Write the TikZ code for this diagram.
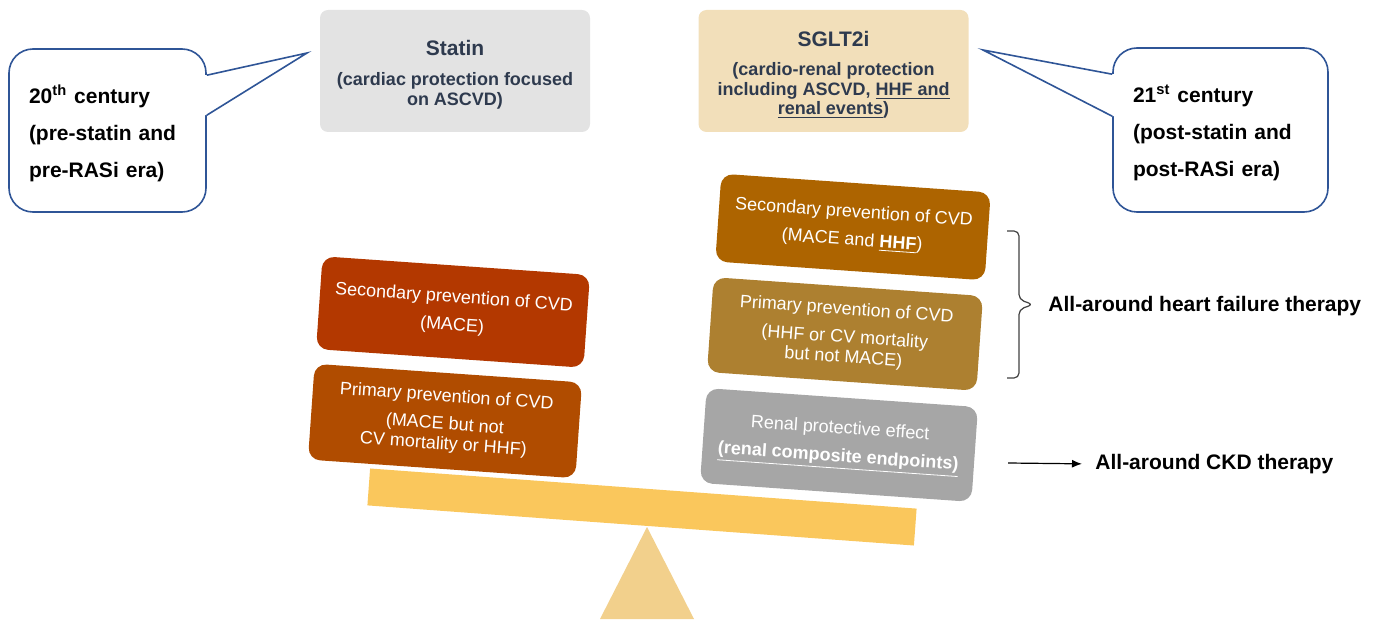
\documentclass[tikz,border=0pt]{standalone}
\usepackage{fontspec}
\setmainfont{Liberation Sans}
\usepackage{tikz}
\usepackage{xcolor}
\usetikzlibrary{
  arrows.meta, calc, positioning
}
\definecolor{bubbleblue}{HTML}{2F5597}
\definecolor{statingray}{HTML}{E3E3E3}
\definecolor{sglttan}{HTML}{F2DFBA}
\definecolor{drugnavy}{HTML}{2E3A4E}
\definecolor{secred}{HTML}{B33800}
\definecolor{primrust}{HTML}{B04C00}
\definecolor{secamber}{HTML}{AD6400}
\definecolor{primgold}{HTML}{AD8030}
\definecolor{renalgray}{HTML}{A6A6A6}
\definecolor{beamyellow}{HTML}{FAC75C}
\definecolor{fulcrumtan}{HTML}{F2D08C}
\definecolor{bracegray}{HTML}{404040}
\tikzset{
  % Era speech bubbles
  bubble/.style={
    draw=bubbleblue, fill=white, rounded corners=12pt,
    line width=0.8pt, align=left, text=black,
    font=\bfseries\fontsize{10.5}{18.5}\selectfont,
    inner xsep=10pt, inner ysep=0pt,
  },
  bubbletail/.style={draw=bubbleblue, line width=0.8pt},
  % Drug headers on top
  drug/.style={
    fill=#1, rounded corners=4pt,
    minimum height=61pt, minimum width=135pt,
    align=center, text=drugnavy, inner sep=0pt,
    font=\bfseries\fontsize{9}{9.75}\selectfont,
  },
  % Tilted weights lying on the scale
  weight/.style={
    fill=#1, rounded corners=6pt, rotate=-4,
    minimum width=134pt, inner sep=0pt,
    align=center, text=white,
    font=\fontsize{9}{10}\selectfont,
  },
  beam/.style={
    fill=beamyellow, rotate=-4.2, inner sep=0pt,
    minimum width=274pt, minimum height=18.5pt,
  },
  % Labels on the right
  sidelabel/.style={
    font=\bfseries\fontsize{10.5}{12}\selectfont,
    anchor=west, inner sep=0pt,
  },
  arr/.style={-{Latex[length=5pt, width=4pt]}, line width=0.6pt, black},
  bracket/.style={rounded corners=2.5pt, line width=0.6pt, bracegray},
}

\begin{document}
\begin{tikzpicture}[x=0.5pt, y=-0.5pt]
  \useasboundingbox (0,0) rectangle (1381,620);

  % seesaw
  \fill[fulcrumtan] (647,527) -- (694,619) -- (600,619) -- cycle;
  \node[beam] (beam) at (642,507) {};

  % drug headers
  \node[drug=statingray] (statin) at (455,71)
    {{\fontsize{10.5}{12}\selectfont\rule{0pt}{11.2pt}Statin}\\[5.25pt]
     (cardiac protection focused\\on ASCVD)};
  \node[drug=sglttan] (sglt) at (833.5,71)
    {{\fontsize{10.5}{12}\selectfont\rule{0pt}{11.6pt}SGLT2i}\\[5pt]
     (cardio-renal protection\\including ASCVD, \underline{HHF and}\\
     \underline{renal events})};

  % era bubbles
  \node[bubble, minimum width=98.5pt, minimum height=81.5pt,
        text width=78.5pt] (c20) at (107.5,130.5)
    {\rule{0pt}{12pt}20\textsuperscript{th} century\\(pre-statin and\\pre-RASi era)};
  \node[bubble, minimum width=107.5pt, minimum height=82pt,
        text width=87.5pt] (c21) at (1220.5,130)
    {\rule{0pt}{12pt}21\textsuperscript{st} century\\(post-statin and\\post-RASi era)};
  \coordinate (tip20) at (307,53);
  \coordinate (tip21) at (983,50);
  \fill[white] ($(c20.north east)+(-2,27)$) -- ($(c20.north east)+(0,27)$)
    -- (tip20) -- ($(c20.north east)+(0,67)$) -- ($(c20.north east)+(-2,67)$) -- cycle;
  \draw[bubbletail] ($(c20.north east)+(0,27)$) -- (tip20)
    -- ($(c20.north east)+(0,67)$);
  \fill[white] ($(c21.north west)+(2,27)$) -- ($(c21.north west)+(0,27)$)
    -- (tip21) -- ($(c21.north west)+(0,69)$) -- ($(c21.north west)+(2,69)$) -- cycle;
  \draw[bubbletail] ($(c21.north west)+(0,27)$) -- (tip21)
    -- ($(c21.north west)+(0,69)$);

  % left pan (statin era)
  \node[weight=secred, minimum height=46.5pt] (lsec) at (453,312)
    {Secondary prevention of CVD\\[4pt](MACE)};
  \node[weight=primrust, minimum height=48pt] (lprim) at (445,421)
    {Primary prevention of CVD\\[4pt](MACE but not\\CV mortality or HHF)};

  % right pan (SGLT2i era)
  \node[weight=secamber, minimum width=135pt, minimum height=44pt] (rsec) at (853,227)
    {Secondary prevention of CVD\\[4pt](MACE and \underline{\textbf{HHF}})};
  \node[weight=primgold, minimum width=135pt, minimum height=47.5pt] (rprim) at (845,334)
    {Primary prevention of CVD\\[4pt](HHF or CV mortality\\but not MACE)};
  \node[weight=renalgray, minimum width=136pt, minimum height=47.5pt] (renal) at (839,445)
    {Renal protective effect\\[4pt]\underline{\textbf{(renal composite endpoints)}}};

  % therapy labels
  \coordinate (hfTop) at (1007,231);
  \coordinate (hfBot) at (1007,378);
  \coordinate (hfMid) at ($(hfTop)!0.5!(hfBot)$);
  \draw[bracket] (hfTop) -- ++(12,0) -- ($(hfMid)+(12,-5)$)
    -- ($(hfMid)+(26,0)$) -- ($(hfMid)+(12,5)$)
    -- ($(hfBot)+(12,0)$) -- (hfBot);
  \node[sidelabel] (hf) at (1048,306) {All-around heart failure therapy};
  \coordinate (ckdStart) at (1008,463);
  \node[sidelabel] (ckd) at (1095,464) {All-around CKD therapy};
  \draw[arr, shorten >=6.5pt] (ckdStart) -- (ckd.west);
\end{tikzpicture}
\end{document}
